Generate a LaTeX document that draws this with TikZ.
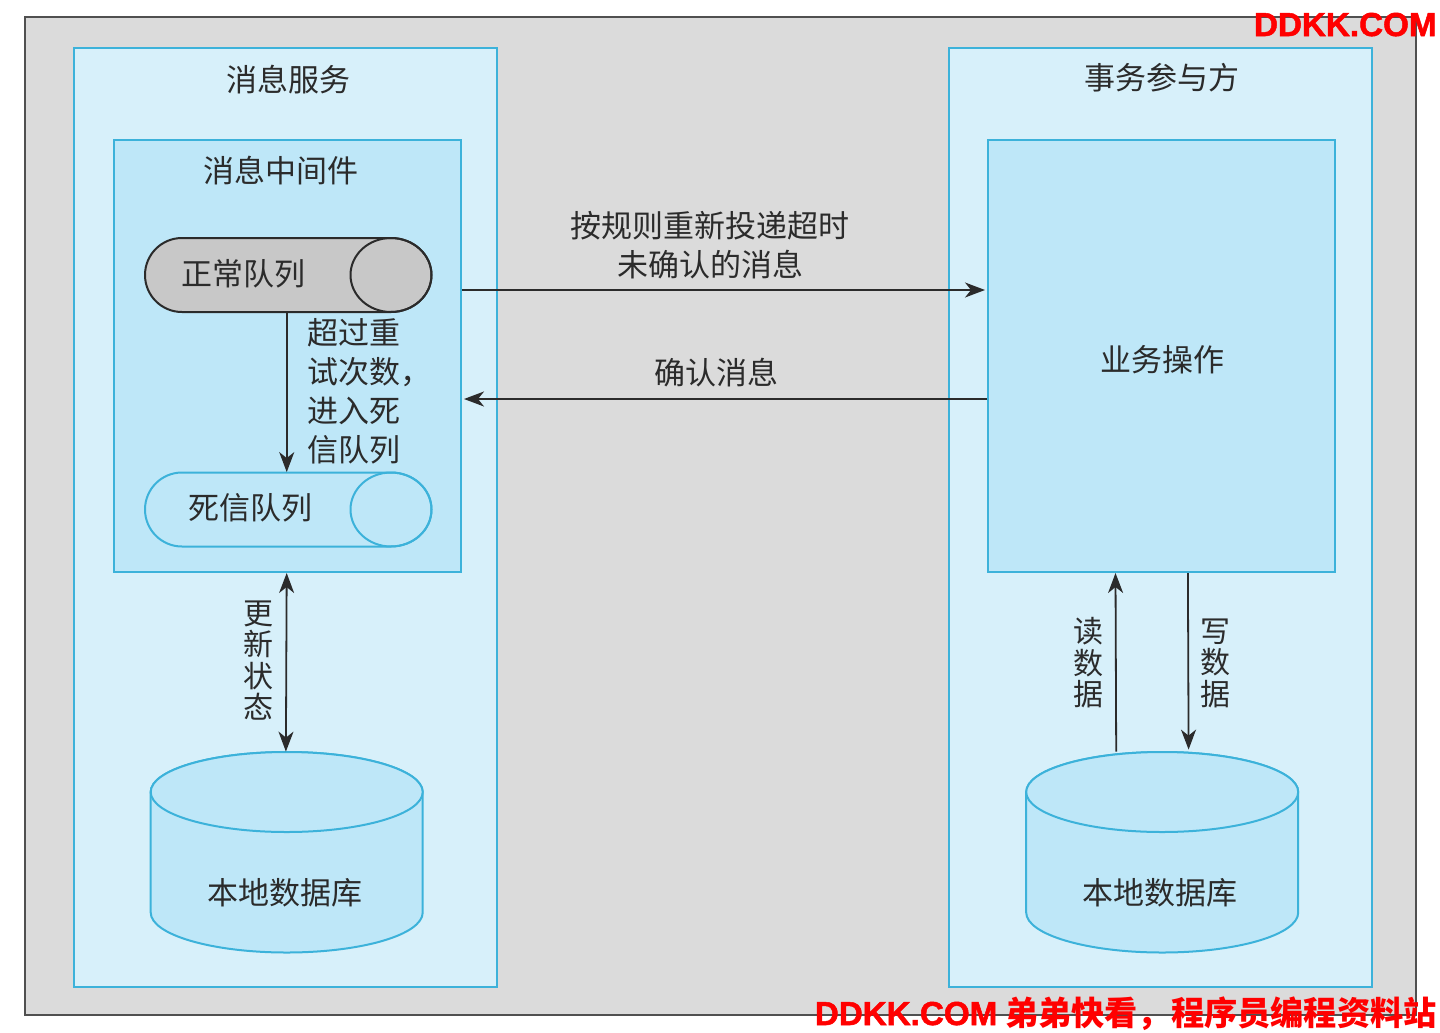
\documentclass[tikz,border=0pt]{standalone}
\usepackage{fontspec}
\setmainfont{Noto Sans CJK SC}
\newfontfamily\wmlatin{Liberation Sans}[FakeBold=1.5]
\usetikzlibrary{arrows.meta,fit}
\definecolor{outerfill}{HTML}{DBDBDB}
\definecolor{outerline}{HTML}{505050}
\definecolor{panelfill}{HTML}{D7F0FA}
\definecolor{panelline}{HTML}{3CB2DA}
\definecolor{innerfill}{HTML}{BEE7F8}
\definecolor{queuegray}{HTML}{C8C8C8}
\definecolor{txt}{HTML}{2B2B2B}
\definecolor{wmred}{HTML}{FF0000}
\tikzset{
  panel/.style={draw=panelline, fill=panelfill, line width=1pt, inner sep=0pt},
  innerbox/.style={draw=panelline, fill=innerfill, line width=1pt, inner sep=0pt},
  ghost/.style={inner sep=0pt},
  lbl/.style={text=txt, font=\fontsize{15.5}{19.5}\selectfont, inner sep=0pt},
  vlbl/.style={text=txt, font=\fontsize{15}{15.75}\selectfont, inner sep=0pt, align=center},
  arr/.style={draw=txt, line width=0.9pt, -{Stealth[length=10pt,width=7.5pt,inset=3pt]}},
  arrb/.style={draw=txt, line width=0.9pt, {Stealth[length=10pt,width=7.5pt,inset=3pt]}-{Stealth[length=10pt,width=7.5pt,inset=3pt]}},
  dbshape/.style={draw=panelline, fill=innerfill, line width=1pt},
  wm/.style={text=wmred, inner sep=0pt, font=\fontsize{16.6}{18}\selectfont\bfseries}
}
\begin{document}
\begin{tikzpicture}[x=0.5pt,y=0.5pt]
\useasboundingbox (0,0) rectangle (1440,-1033);
\fill[white] (0,0) rectangle (1440,-1033);
% outer frame
\node[draw=outerline, fill=outerfill, line width=1.3pt, inner sep=0pt, fit={(25,-17) (1416,-1015)}] (frame) {};
% panels
\node[panel, fit={(74,-48) (497,-987)}] (ms) {};
\node[panel, fit={(949,-48) (1372,-987)}] (tp) {};
\node[lbl] (msT) at (288,-80) {消息服务};
\node[lbl] (tpT) at (1162,-78) {事务参与方};
% middleware box
\node[innerbox, fit={(114,-140) (461,-572)}] (mw) {};
\node[lbl] (mwT) at (281,-171) {消息中间件};
% business box
\node[innerbox, fit={(988,-140) (1335,-572)}] (biz) {};
\node[lbl] (bizT) at (1162,-360) {业务操作};
% normal queue
\filldraw[draw=txt, fill=queuegray, line width=1pt]
  (182,-238) -- (391,-238) arc[start angle=90, end angle=-90, x radius=40.5, y radius=37]
  -- (182,-312) arc[start angle=270, end angle=90, radius=37] -- cycle;
\draw[draw=txt, line width=1pt] (391,-275) ellipse[x radius=40.5, y radius=37];
\node[ghost, fit={(145,-238) (431.5,-312)}] (nq) {};
\node[lbl] (nqT) at (243,-274) {正常队列};
% dead letter queue
\filldraw[draw=panelline, fill=innerfill, line width=1pt]
  (182,-472.5) -- (391,-472.5) arc[start angle=90, end angle=-90, x radius=40.5, y radius=37]
  -- (182,-546.5) arc[start angle=270, end angle=90, radius=37] -- cycle;
\draw[draw=panelline, line width=1pt] (391,-509.5) ellipse[x radius=40.5, y radius=37];
\node[ghost, fit={(145,-472.5) (431.5,-546.5)}] (dq) {};
\node[lbl] (dqT) at (250,-508) {死信队列};
% databases
\filldraw[dbshape] (150.7,-792) -- (150.7,-912.5)
  arc[start angle=180, end angle=360, x radius=136, y radius=40]
  -- (422.7,-792) arc[start angle=0, end angle=180, x radius=136, y radius=40] -- cycle;
\draw[dbshape] (286.7,-792) ellipse[x radius=136, y radius=40];
\node[ghost, fit={(150.7,-752) (422.7,-952.5)}] (db1) {};
\node[lbl] (db1T) at (285,-893) {本地数据库};
\filldraw[dbshape] (1026.2,-792) -- (1026.2,-912.5)
  arc[start angle=180, end angle=360, x radius=136, y radius=40]
  -- (1298.2,-792) arc[start angle=0, end angle=180, x radius=136, y radius=40] -- cycle;
\draw[dbshape] (1162.2,-792) ellipse[x radius=136, y radius=40];
\node[ghost, fit={(1026.2,-752) (1298.2,-952.5)}] (db2) {};
\node[lbl] (db2T) at (1160,-893) {本地数据库};
% connectors
\draw[arr] ([xshift=-0.75pt]nq.south) -- ([xshift=-0.75pt]dq.north);
\node[lbl, align=left, anchor=west] (retryT) at (307,-391.5) {超过重\\试次数，\\进入死\\信队列};
\draw[arr] ([yshift=33pt]mw.east) -- ([yshift=33pt,xshift=-1pt]biz.west);
\node[lbl, align=center] (redeliverT) at (710,-245.5) {按规则重新投递超时\\未确认的消息};
\draw[arr] ([yshift=-21.5pt]biz.west) -- ([yshift=-21.5pt,xshift=1pt]mw.east);
\node[lbl] (ackT) at (716,-373) {确认消息};
\draw[arrb] ([xshift=-0.4pt]mw.south) -- ([xshift=-0.4pt]db1.north);
\node[vlbl] (updT) at (258,-660.5) {更\\新\\状\\态};
\draw[arr] ([xshift=-23pt]db2.north) -- ([xshift=-23pt]biz.south);
\node[vlbl] (readT) at (1088.5,-663) {读\\数\\据};
\draw[arr] ([xshift=13.2pt]biz.south) -- ([xshift=13.2pt,yshift=1pt]db2.north);
\node[vlbl] (writeT) at (1215,-663) {写\\数\\据};
% watermarks
\node[wm, anchor=base east] (wm1) at (1437,-36) {\wmlatin\bfseries DDKK.COM};
\node[wm, anchor=base east] (wm2) at (1437,-1025) {{\wmlatin\bfseries DDKK.COM} 弟弟快看，程序员编程资料站};
\end{tikzpicture}
\end{document}
